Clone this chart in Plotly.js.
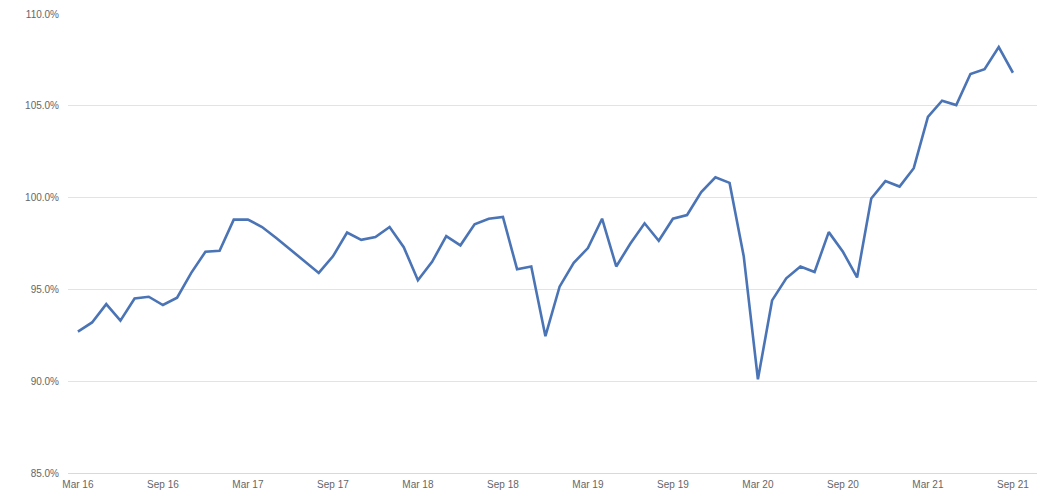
<!DOCTYPE html>
<html>
<head>
<meta charset="utf-8">
<script src="https://cdn.plot.ly/plotly-3.0.1.min.js"></script>
<style>
html,body{margin:0;padding:0;background:#fff;}
#chart{width:1047px;height:496px;}
</style>
</head>
<body>
<div id="chart"></div>
<script>
var months = [
  "Mar 16","Apr 16","May 16","Jun 16","Jul 16","Aug 16","Sep 16","Oct 16","Nov 16","Dec 16",
  "Jan 17","Feb 17","Mar 17","Apr 17","May 17","Jun 17","Jul 17","Aug 17","Sep 17","Oct 17","Nov 17","Dec 17",
  "Jan 18","Feb 18","Mar 18","Apr 18","May 18","Jun 18","Jul 18","Aug 18","Sep 18","Oct 18","Nov 18","Dec 18",
  "Jan 19","Feb 19","Mar 19","Apr 19","May 19","Jun 19","Jul 19","Aug 19","Sep 19","Oct 19","Nov 19","Dec 19",
  "Jan 20","Feb 20","Mar 20","Apr 20","May 20","Jun 20","Jul 20","Aug 20","Sep 20","Oct 20","Nov 20","Dec 20",
  "Jan 21","Feb 21","Mar 21","Apr 21","May 21","Jun 21","Jul 21","Aug 21","Sep 21"
];
var values = [
  92.7, 93.2, 94.2, 93.3, 94.5, 94.6, 94.15, 94.55, 95.9, 97.05,
  97.1, 98.8, 98.8, 98.4, 97.8, 97.15, 96.5, 95.9, 96.8, 98.1, 97.7, 97.85,
  98.4, 97.3, 95.5, 96.5, 97.9, 97.4, 98.55, 98.85, 98.95, 96.1, 96.25, 92.45,
  95.15, 96.45, 97.25, 98.85, 96.25, 97.5, 98.6, 97.65, 98.85, 99.05, 100.3, 101.1,
  100.8, 96.8, 90.1, 94.4, 95.6, 96.25, 95.95, 98.12, 97.05, 95.65, 99.95, 100.9,
  100.6, 101.6, 104.4, 105.28, 105.04, 106.73, 106.99, 108.2, 106.8
];
var tickLabels = ["Mar 16","Sep 16","Mar 17","Sep 17","Mar 18","Sep 18","Mar 19","Sep 19","Mar 20","Sep 20","Mar 21","Sep 21"];
var yTicks = [85, 90, 95, 100, 105, 110];

var trace = {
  x: months,
  y: values,
  type: "scatter",
  mode: "lines",
  line: {color: "#4a74b5", width: 2.6},
  hoverinfo: "x+y"
};

var layout = {
  width: 1047,
  height: 496,
  paper_bgcolor: "#ffffff",
  plot_bgcolor: "#ffffff",
  margin: {l: 68, r: 10, t: 14, b: 23},
  showlegend: false,
  font: {family: "Liberation Sans, Arial, sans-serif", size: 10, color: "#666666"},
  xaxis: {
    type: "category",
    range: [-0.7, 67.7],
    tickmode: "array",
    tickvals: tickLabels,
    ticktext: tickLabels,
    tickangle: 0,
    showgrid: false,
    zeroline: false,
    showline: true,
    linecolor: "#d9d9d9",
    linewidth: 1,
    ticks: "outside",
    ticklen: 2,
    tickcolor: "rgba(0,0,0,0)",
    tickfont: {size: 10, color: "#666666"}
  },
  yaxis: {
    range: [85, 110],
    tickmode: "array",
    tickvals: yTicks,
    ticktext: yTicks.map(function(v){ return v.toFixed(1) + "%"; }),
    showgrid: true,
    gridcolor: "#e3e3e3",
    gridwidth: 1,
    zeroline: false,
    showline: false,
    ticks: "outside",
    ticklen: 6,
    tickcolor: "rgba(0,0,0,0)",
    tickfont: {size: 10, color: "#666666"}
  }
};

Plotly.newPlot("chart", [trace], layout, {displayModeBar: false, staticPlot: true});
</script>
</body>
</html>
